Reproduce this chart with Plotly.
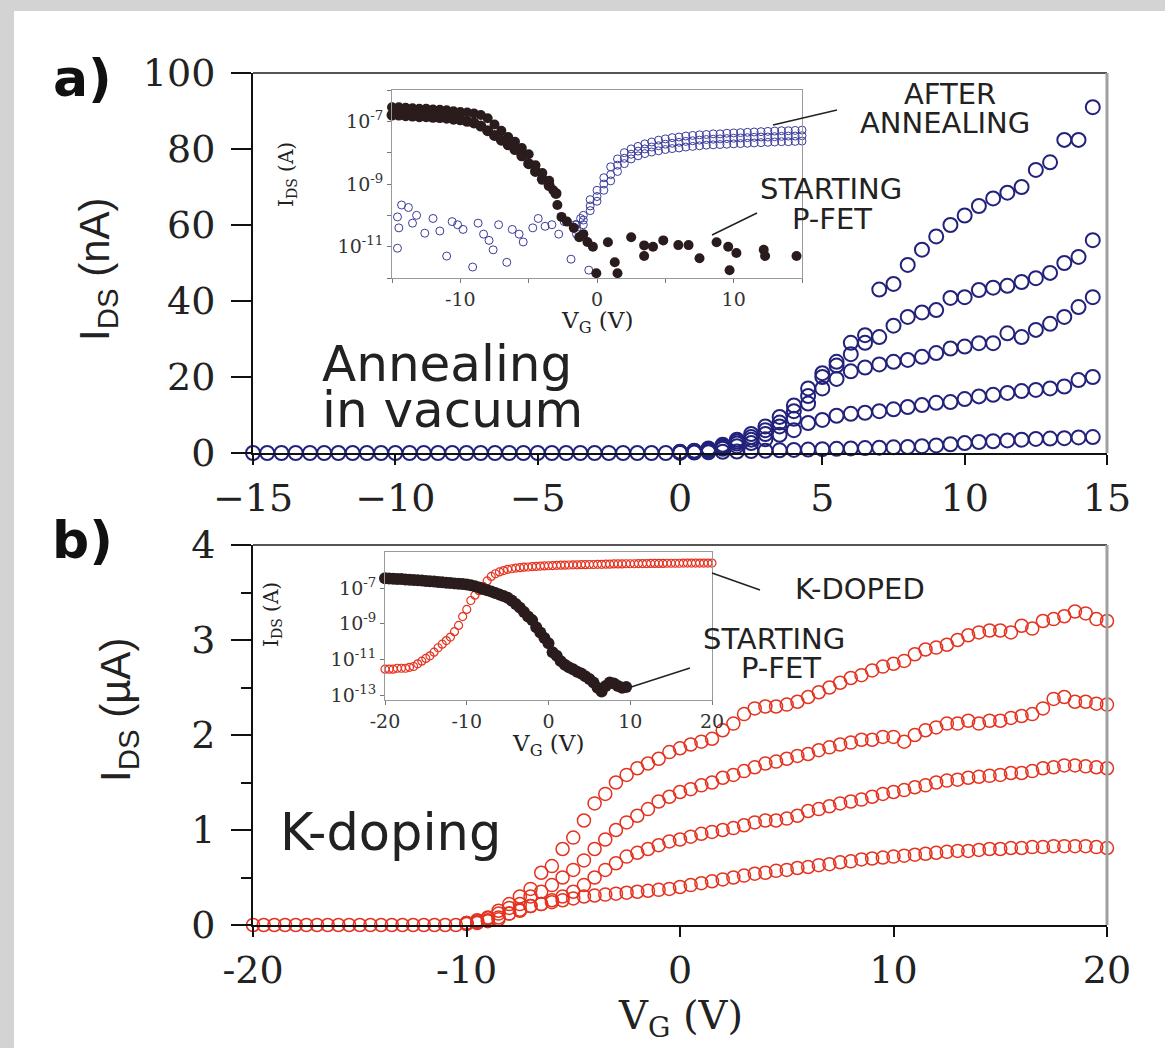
import numpy as np
import plotly.graph_objects as go

W, H = 1165, 1048

# ---------------- DATA ----------------
# Panel a main: I_DS (nA) vs V_G (V), five drain biases
vg_a_off = [-15, -14.5, -14, -13.5, -13, -12.5, -12, -11.5, -11, -10.5, -10, -9.5, -9, -8.5, -8, -7.5,
            -7, -6.5, -6, -5.5, -5, -4.5, -4, -3.5, -3, -2.5, -2, -1.5, -1, -0.5]
ids_a_off = [0] * 30
vg_a_on = [0, 0.5, 1, 1.5, 2, 2.5, 3, 3.5, 4, 4.5, 5, 5.5, 6, 6.5, 7, 7.5, 8, 8.5, 9, 9.5,
           10, 10.5, 11, 11.5, 12, 12.5, 13, 13.5, 14, 14.5]
ids_a1 = [0.3, 0.6, 1.2, 2.2, 3.5, 5, 7, 9.5, 12.5, 17, 21, 24, 29, 31, 43, 44.5, 49.5, 53.5, 57, 60,
          62.5, 65, 67, 68.5, 70, 74.5, 76.5, 82.4, 82.4, 91]
ids_a2 = [0.2, 0.5, 1, 1.8, 3, 4.2, 6, 8, 11, 15, 20, 23, 26, 29, 30.5, 33.5, 35.8, 37, 37.6, 40.8,
          41, 42.9, 43.5, 44, 45, 46, 47.4, 50, 51.6, 56]
ids_a3 = [0.2, 0.4, 0.8, 1.5, 2.5, 3.5, 5, 7, 9, 13, 17, 19.5, 21.5, 22.5, 23.3, 24, 24.5, 25.3, 26.3, 27.5,
          28, 28.9, 28.9, 31.5, 30.5, 32.4, 34, 35.8, 38.4, 41]
ids_a4 = [0.1, 0.3, 0.6, 1.1, 1.8, 2.6, 3.6, 4.8, 6, 7.9, 8.7, 9.8, 10.3, 10.6, 11, 11.5, 12.1, 12.6, 13.2, 13.4,
          14.2, 14.9, 15.3, 15.8, 16.3, 16.6, 17, 17.5, 19.2, 20]
ids_a5 = [0.05, 0.1, 0.2, 0.3, 0.4, 0.5, 0.6, 0.7, 0.8, 0.9, 1, 1.1, 1.2, 1.3, 1.4, 1.5, 1.6, 1.8, 2, 2.3,
          2.6, 2.9, 3.1, 3.3, 3.5, 3.7, 3.8, 3.9, 4.1, 4.2]

# Panel b main: I_DS (uA) vs V_G (V), four drain biases
vg_b_off = [-20, -19.5, -19, -18.5, -18, -17.5, -17, -16.5, -16, -15.5, -15, -14.5, -14, -13.5, -13,
            -12.5, -12, -11.5, -11, -10.5]
ids_b_off = [0] * 20
vg_b_on = [-10, -9.5, -9, -8.5, -8, -7.5, -7, -6.5, -6, -5.5, -5, -4.5, -4, -3.5, -3, -2.5, -2, -1.5, -1, -0.5,
           0, 0.5, 1, 1.5, 2, 2.5, 3, 3.5, 4, 4.5, 5, 5.5, 6, 6.5, 7, 7.5, 8, 8.5, 9, 9.5,
           10, 10.5, 11, 11.5, 12, 12.5, 13, 13.5, 14, 14.5, 15, 15.5, 16, 16.5, 17, 17.5, 18, 18.5, 19, 19.5, 20]
ids_b1 = [0.02, 0.05, 0.08, 0.15, 0.22, 0.3, 0.38, 0.55, 0.62, 0.8, 0.92, 1.1, 1.28, 1.38, 1.5, 1.58, 1.65, 1.7, 1.75, 1.82,
          1.86, 1.9, 1.93, 1.96, 2.05, 2.12, 2.22, 2.28, 2.3, 2.3, 2.32, 2.35, 2.4, 2.45, 2.5, 2.55, 2.6, 2.63, 2.68, 2.72,
          2.75, 2.78, 2.85, 2.9, 2.92, 2.95, 3.0, 3.05, 3.08, 3.1, 3.1, 3.08, 3.15, 3.12, 3.2, 3.22, 3.25, 3.3, 3.28, 3.22, 3.2]
ids_b2 = [0.02, 0.04, 0.07, 0.12, 0.18, 0.22, 0.3, 0.35, 0.42, 0.5, 0.58, 0.68, 0.8, 0.9, 1.0, 1.08, 1.15, 1.22, 1.3, 1.35,
          1.4, 1.43, 1.47, 1.5, 1.55, 1.58, 1.62, 1.66, 1.7, 1.72, 1.75, 1.78, 1.8, 1.84, 1.87, 1.9, 1.92, 1.95, 1.95, 1.98,
          1.98, 1.93, 2.0, 2.05, 2.08, 2.12, 2.12, 2.15, 2.12, 2.15, 2.15, 2.18, 2.2, 2.22, 2.28, 2.38, 2.4, 2.35, 2.35, 2.33, 2.32]
ids_b3 = [0.02, 0.03, 0.05, 0.08, 0.12, 0.15, 0.2, 0.22, 0.26, 0.3, 0.35, 0.42, 0.5, 0.58, 0.65, 0.72, 0.76, 0.8, 0.84, 0.88,
          0.9, 0.93, 0.96, 0.98, 1.0, 1.02, 1.05, 1.08, 1.1, 1.1, 1.12, 1.15, 1.2, 1.22, 1.25, 1.28, 1.3, 1.32, 1.35, 1.38,
          1.4, 1.42, 1.45, 1.47, 1.5, 1.52, 1.53, 1.55, 1.56, 1.57, 1.58, 1.6, 1.6, 1.62, 1.65, 1.66, 1.68, 1.68, 1.67, 1.66, 1.65]
ids_b4 = [0.01, 0.02, 0.04, 0.06, 0.12, 0.16, 0.2, 0.22, 0.24, 0.26, 0.28, 0.3, 0.31, 0.32, 0.33, 0.34, 0.35, 0.36, 0.37, 0.38,
          0.4, 0.42, 0.44, 0.46, 0.48, 0.5, 0.52, 0.54, 0.55, 0.57, 0.58, 0.6, 0.61, 0.63, 0.64, 0.66, 0.67, 0.69, 0.7, 0.71,
          0.72, 0.73, 0.74, 0.75, 0.76, 0.77, 0.78, 0.78, 0.79, 0.8, 0.8, 0.81, 0.81, 0.82, 0.82, 0.83, 0.83, 0.83, 0.83, 0.82, 0.81]

# Inset a: log10 I_DS (A) vs V_G (V)
insa_pfet_v = [-15, -14.5, -14, -13.5, -13, -12.5, -12, -11.5, -11, -10.5, -10, -9.5, -9, -8.5, -8, -7.5, -7, -6.5,
               -6, -5.5, -5, -4.5, -4, -3.5, -3.2, -2.9, -2.6, -2.2, -1.7, -1.3, -1.0, -0.7, -0.3, -0.05,
               0.8, 1.3, 1.5, 2.5, 3.45, 3.45, 4.1, 4.85, 5.95, 6.7, 7.5, 8.75, 9.6, 9.7, 10.2, 12.2, 12.3, 14.6]
insa_pfet_log = [-6.55, -6.55, -6.57, -6.58, -6.6, -6.6, -6.62, -6.63, -6.65, -6.68, -6.7, -6.72, -6.75, -6.8, -6.9, -7.1,
                 -7.3, -7.5, -7.65, -7.85, -8.05, -8.4, -8.65, -8.9, -9.2, -9.67, -10.05, -10.2, -10.4, -10.7, -10.6,
                 -10.85, -11.0, -11.85, -10.86, -11.5, -11.85, -10.7, -10.96, -11.3, -11.0, -10.8, -10.95, -10.95,
                 -11.37, -10.86, -11.0, -11.75, -11.2, -11.1, -11.3, -11.3]
insa_pfet2_v = [-15, -14.5, -14, -13.5, -13, -12.5, -12, -11.5, -11, -10.5, -10, -9.5, -9, -8.5, -8, -7.5, -7, -6.5,
                -6, -5.5, -5, -4.5, -4, -3.5, -3]
insa_pfet2_log = [-6.8, -6.8, -6.82, -6.83, -6.85, -6.85, -6.87, -6.88, -6.9, -6.93, -6.95, -7.0, -7.05, -7.15, -7.3,
                  -7.45, -7.6, -7.75, -7.9, -8.1, -8.35, -8.6, -8.85, -9.05, -9.3]
insa_noise_v = [-14.6, -14.3, -14.5, -14.6, -13.8, -13.5, -13.2, -12.6, -12.0, -11.5, -11.0, -10.6, -10.2, -9.8, -9.1,
                -8.7, -8.3, -7.9, -7.6, -7.2, -6.6, -6.2, -5.7, -5.4, -4.7, -4.3, -3.8, -3.3, -2.8, -2.4, -1.9,
                -1.6, -1.2, -0.6]
insa_noise_log = [-10.05, -9.67, -10.4, -11.05, -9.75, -10.25, -10.0, -10.57, -10.1, -10.5, -11.3, -10.2, -10.3, -10.45,
                  -11.65, -10.25, -10.6, -10.8, -11.1, -10.3, -11.5, -10.45, -10.6, -10.85, -10.4, -10.1, -10.35,
                  -10.3, -10.6, -10.2, -11.4, -10.3, -10.1, -11.75]
insa_ann_v = [-1.5, -1, -0.5, 0, 0.5, 1, 1.5, 2, 2.5, 3, 3.5, 4, 4.5, 5, 5.5, 6, 6.5, 7, 7.5, 8, 8.5, 9, 9.5,
              10, 10.5, 11, 11.5, 12, 12.5, 13, 13.5, 14, 14.5, 15]
insa_ann_hi = [-10.3, -10.0, -9.5, -9.2, -8.8, -8.45, -8.2, -8.0, -7.88, -7.8, -7.72, -7.66, -7.6, -7.56, -7.52, -7.5,
               -7.47, -7.45, -7.43, -7.42, -7.4, -7.4, -7.38, -7.37, -7.36, -7.35, -7.34, -7.33, -7.32, -7.31, -7.3,
               -7.3, -7.29, -7.28]
insa_ann_mid = [-10.45, -10.15, -9.7, -9.4, -9.0, -8.7, -8.4, -8.18, -8.05, -7.95, -7.88, -7.82, -7.78, -7.73, -7.7,
                -7.67, -7.64, -7.62, -7.6, -7.58, -7.57, -7.56, -7.55, -7.54, -7.53, -7.52, -7.51, -7.5, -7.5, -7.49,
                -7.48, -7.47, -7.47, -7.46]
insa_ann_lo = [-10.6, -10.3, -9.85, -9.55, -9.2, -8.9, -8.6, -8.35, -8.2, -8.1, -8.03, -7.98, -7.94, -7.9, -7.87, -7.85,
               -7.82, -7.8, -7.78, -7.76, -7.75, -7.74, -7.73, -7.72, -7.71, -7.7, -7.69, -7.68, -7.67, -7.66, -7.65,
               -7.65, -7.64, -7.63]

# Inset b: log10 I_DS (A) vs V_G (V)
insb_v = [-20, -19.5, -19, -18.5, -18, -17.5, -17, -16.5, -16, -15.5, -15, -14.5, -14, -13.5, -13, -12.5, -12, -11.5,
          -11, -10.5, -10, -9.5, -9, -8.5, -8, -7.5, -7, -6.5, -6, -5.5, -5, -4.5, -4, -3.5, -3, -2.5, -2, -1.5,
          -1, -0.5, 0, 0.5, 1, 1.5, 2, 2.5, 3, 3.5, 4, 4.5, 5, 5.5, 6, 6.5, 7, 7.5, 8, 8.5, 9, 9.5,
          10, 10.5, 11, 11.5, 12, 12.5, 13, 13.5, 14, 14.5, 15, 15.5, 16, 16.5, 17, 17.5, 18, 18.5, 19, 19.5, 20]
insb_kdoped_log = [-11.55, -11.55, -11.55, -11.5, -11.5, -11.5, -11.45, -11.4, -11.25, -11.1,
                   -10.95, -10.8, -10.6, -10.35, -10.15, -9.95, -9.75, -9.45, -9.1, -8.6,
                   -8.2, -7.7, -7.4, -7.15, -6.9, -6.6, -6.35, -6.2, -6.1, -6.02,
                   -5.95, -5.92, -5.88, -5.86, -5.83, -5.82, -5.8, -5.79, -5.77, -5.76,
                   -5.75, -5.74, -5.73, -5.72, -5.72, -5.71, -5.7, -5.7, -5.69, -5.69,
                   -5.68, -5.68, -5.67, -5.67, -5.66, -5.66, -5.65, -5.65, -5.65, -5.64,
                   -5.64, -5.64, -5.63, -5.63, -5.63, -5.62, -5.62, -5.62, -5.62, -5.61,
                   -5.61, -5.61, -5.61, -5.6, -5.6, -5.6, -5.6, -5.6, -5.6, -5.6, -5.6]
insb_pfet_log = [-6.45, -6.47, -6.48, -6.5, -6.5, -6.52, -6.53, -6.55, -6.57, -6.58,
                 -6.6, -6.62, -6.64, -6.66, -6.68, -6.7, -6.72, -6.74, -6.76, -6.78,
                 -6.8, -6.85, -6.9, -6.97, -7.05, -7.12, -7.2, -7.28, -7.36, -7.45,
                 -7.55, -7.7, -7.9, -8.1, -8.35, -8.6, -8.8, -9.2, -9.5, -9.8,
                 -10.1, -10.6, -10.8, -11.1, -11.3, -11.45, -11.55, -11.7, -11.8, -11.95,
                 -12.1, -12.3, -12.6, -12.8, -12.5, -12.3, -12.35, -12.5, -12.6, -12.55]

# ---------------- STYLE ----------------
NAVY = "#22227c"
BLUE_IN = "#3b3b9c"
RED = "#e5321f"
BLACK = "#2a1c1c"
SERIF = "DejaVu Serif"
SANS = "DejaVu Sans"
GRAY = "#d3d3d3"


def fx(p):
    return p / W


def fy(p):
    return 1 - p / H


fig = go.Figure()


def add(x, y, xa, ya, color, size, width=1.6, symbol="circle-open"):
    fig.add_trace(go.Scatter(x=x, y=y, xaxis=xa, yaxis=ya, mode="markers", cliponaxis=False,
                             showlegend=False, hoverinfo="skip",
                             marker=dict(symbol=symbol, size=size, color=color,
                                         line=dict(color=color, width=width))))


# panel a
add(vg_a_off, ids_a_off, "x", "y", NAVY, 14, 2)
for ser in [ids_a5, ids_a4, ids_a3, ids_a2, ids_a1]:
    add(vg_a_on, ser, "x", "y", NAVY, 14, 2)
# panel b
add(vg_b_off, ids_b_off, "x2", "y2", RED, 13, 1.5)
for ser in [ids_b4, ids_b3, ids_b2, ids_b1]:
    add(vg_b_on, ser, "x2", "y2", RED, 13, 1.5)
# inset a
add(insa_noise_v, np.power(10.0, insa_noise_log), "x3", "y3", BLUE_IN, 8, 1)
for ser in [insa_ann_lo, insa_ann_mid, insa_ann_hi]:
    add(insa_ann_v, np.power(10.0, ser), "x3", "y3", BLUE_IN, 8, 1)
add(insa_pfet2_v, np.power(10.0, insa_pfet2_log), "x3", "y3", BLACK, 11, 0, "circle")
add(insa_pfet_v, np.power(10.0, insa_pfet_log), "x3", "y3", BLACK, 10, 0, "circle")
# inset b
add(insb_v, np.power(10.0, insb_kdoped_log), "x4", "y4", RED, 8, 1.2)
add(insb_v[:60], np.power(10.0, insb_pfet_log), "x4", "y4", BLACK, 12, 0, "circle")

main_tick = dict(family=SERIF, size=38, color="#222")
ins_tick = dict(family=SERIF, size=19, color="#333")

common_main = dict(showgrid=False, zeroline=False, showline=True, linecolor="#111", linewidth=2,
                   ticks="outside", tickcolor="#111", tickwidth=2, tickfont=main_tick, automargin=False)
common_ins = dict(showgrid=False, zeroline=False, showline=True, linecolor="#9a9a9a", linewidth=1,
                  mirror=True, ticks="outside", tickcolor="#777", tickwidth=1, ticklen=4, tickfont=ins_tick,
                  automargin=False)

fig.update_layout(
    width=W, height=H, autosize=False, margin=dict(l=0, r=0, t=0, b=0, pad=0, autoexpand=False),
    paper_bgcolor=GRAY, plot_bgcolor="rgba(0,0,0,0)",
    xaxis=dict(domain=[fx(253), fx(1107)], range=[-15, 15], anchor="y",
               tickvals=[-15, -10, -5, 0, 5, 10, 15], ticklen=10, **common_main),
    yaxis=dict(domain=[fy(453), fy(73)], range=[0, 100], anchor="x",
               tickvals=[0, 20, 40, 60, 80, 100], ticklen=20, ticklabelstandoff=8, **common_main),
    xaxis2=dict(domain=[fx(253), fx(1107)], range=[-20, 20], anchor="y2",
                tickvals=[-20, -10, 0, 10, 20], ticktext=["-20", "-10", "0", "10", "20"], ticklen=10,
                **common_main),
    yaxis2=dict(domain=[fy(925), fy(545)], range=[0, 4], anchor="x2",
                tickvals=[0, 1, 2, 3, 4], ticklen=20, ticklabelstandoff=8,
                minor=dict(dtick=0.5, ticks="outside", ticklen=10, tickcolor="#111", tickwidth=2),
                **common_main),
    xaxis3=dict(domain=[fx(392), fx(802)], range=[-15, 15], anchor="y3",
                tickvals=[-15, -10, -5, 0, 5, 10, 15], ticktext=["", "-10", "", "0", "", "10", ""],
                **common_ins),
    yaxis3=dict(domain=[fy(278), fy(90)], type="log", range=[-12, -6], anchor="x3",
                tickvals=[1e-12, 1e-11, 1e-10, 1e-9, 1e-8, 1e-7, 1e-6],
                ticktext=["", "10<sup>-11</sup>", "", "10<sup>-9</sup>", "", "10<sup>-7</sup>", ""],
                **common_ins),
    xaxis4=dict(domain=[fx(385), fx(712)], range=[-20, 20], anchor="y4",
                tickvals=[-20, -10, 0, 10, 20], ticktext=["-20", "-10", "0", "10", "20"], **common_ins),
    yaxis4=dict(domain=[fy(700), fy(552)], type="log", range=[-13.28, -4.98], anchor="x4",
                tickvals=[1e-13, 1e-11, 1e-9, 1e-7],
                ticktext=["10<sup>-13</sup>", "10<sup>-11</sup>", "10<sup>-9</sup>", "10<sup>-7</sup>"],
                **common_ins),
)

shapes = []
# white page area inside the gray border (left and top strips stay gray)
shapes.append(dict(type="rect", xref="paper", yref="paper", x0=fx(14), x1=1, y0=0, y1=fy(11),
                   fillcolor="white", line=dict(width=0), layer="below"))
# top / right frame lines of main panels
for xr, yr in [("x", "y"), ("x2", "y2")]:
    shapes.append(dict(type="line", xref=f"{xr} domain", yref=f"{yr} domain", x0=0, x1=1, y0=1, y1=1,
                       line=dict(color="#555", width=2)))
    shapes.append(dict(type="line", xref=f"{xr} domain", yref=f"{yr} domain", x0=1, x1=1, y0=0, y1=1,
                       line=dict(color="#a0a0a0", width=3)))
# leader lines
for (x0, y0, x1, y1) in [(773, 125, 837, 110), (712, 235, 757, 213), (712, 573, 760, 590), (628, 688, 690, 668)]:
    shapes.append(dict(type="line", xref="paper", yref="paper", x0=fx(x0), y0=fy(y0), x1=fx(x1), y1=fy(y1),
                       line=dict(color="#222", width=1.5)))
fig.update_layout(shapes=shapes)


def ann(text, x, y, size, family=SANS, xanchor="center", angle=0, color="#222", bold=False):
    fig.add_annotation(text=f"<b>{text}</b>" if bold else text, x=fx(x), y=fy(y), xref="paper", yref="paper",
                       showarrow=False, xanchor=xanchor, yanchor="middle", textangle=angle,
                       font=dict(family=family, size=size, color=color))


ann("a)", 82, 78, 52, bold=True, color="#111")
ann("b)", 82, 540, 52, bold=True, color="#111")
ann("I<sub>DS</sub> (nA)", 98, 269, 42, family="Liberation Sans", angle=-90)
ann("I<sub>DS</sub> (µA)", 118, 710, 42, family="Liberation Sans", angle=-90)
ann("V<sub>G</sub> (V)", 680, 1018, 40, family=SERIF)
ann("Annealing", 320, 364, 50, xanchor="left")
ann("in vacuum", 320, 410, 50, xanchor="left")
ann("K-doping", 278, 832, 51, xanchor="left")
ann("AFTER", 950, 94, 29)
ann("ANNEALING", 945, 123, 29)
ann("STARTING", 831, 189, 29)
ann("P-FET", 832, 219, 29)
ann("K-DOPED", 860, 589, 29)
ann("STARTING", 774, 639, 29)
ann("P-FET", 781, 668, 29)
ann("V<sub>G</sub> (V)", 597, 322, 23, family=SERIF)
ann("V<sub>G</sub> (V)", 548, 745, 23, family=SERIF)
ann("I<sub>DS</sub> (A)", 287, 175, 20, family=SERIF, angle=-90)
ann("I<sub>DS</sub> (A)", 272, 615, 20, family=SERIF, angle=-90)

fig.write_html("out.html", config={"displayModeBar": False},
               post_script="document.body.style.margin='0px';")
